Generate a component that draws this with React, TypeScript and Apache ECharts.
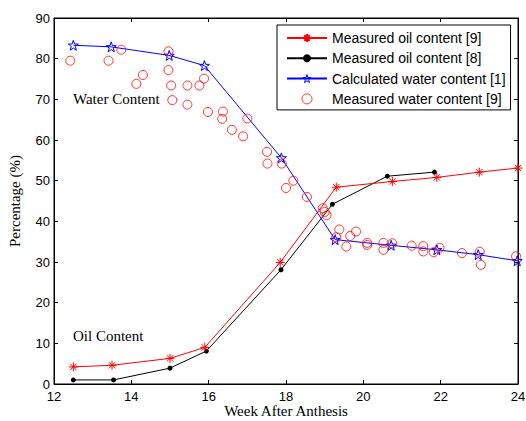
import React, { useEffect, useRef } from "react";
import * as echarts from "echarts";

const oil9: [number, number][] = [
  [12.5, 4.2], [13.5, 4.6], [15.0, 6.3], [15.9, 9.0], [17.85, 29.9],
  [19.3, 48.4], [20.75, 49.8], [21.9, 50.8], [23.0, 52.1], [24.0, 53.1],
];
const oil8: [number, number][] = [
  [12.5, 1.0], [13.54, 1.0], [15.0, 3.9], [15.94, 8.1], [17.87, 28.1],
  [19.2, 44.2], [20.62, 51.1], [21.84, 52.1],
];
const waterCalc: [number, number][] = [
  [12.5, 83.3], [13.48, 82.9], [14.98, 80.8], [15.89, 78.3], [17.88, 55.6],
  [19.27, 35.5], [20.72, 34.1], [21.9, 33.0], [22.97, 31.8], [23.98, 30.3],
];
const waterMeasured: [number, number][] = [
  [12.42, 79.5], [13.41, 79.5], [13.74, 82.2], [14.13, 73.8], [14.3, 76.0],
  [14.96, 81.8], [14.96, 77.2], [15.03, 73.4], [15.06, 69.8], [15.45, 73.4],
  [15.45, 68.7], [15.76, 73.4], [15.88, 75.1], [15.98, 66.9], [16.37, 67.0],
  [16.35, 65.2], [17.0, 65.3], [16.6, 62.5], [16.89, 60.9], [17.51, 57.1],
  [17.52, 54.2], [17.89, 54.2], [18.19, 50.0], [18.0, 48.2], [18.54, 46.0],
  [18.95, 43.2], [19.0, 42.3], [19.05, 41.5], [19.38, 38.0], [19.3, 36.1],
  [19.56, 33.8], [19.66, 36.4], [19.81, 37.5], [20.1, 34.7], [20.1, 34.2],
  [20.52, 34.7], [20.52, 33.0], [20.75, 34.6], [21.25, 34.0], [21.55, 33.9],
  [21.55, 32.6], [21.82, 32.4], [21.97, 33.5], [22.55, 32.2], [23.01, 32.5],
  [23.04, 29.3], [23.95, 31.4],
];

const seriesNames = [
  "Measured oil content [9]",
  "Measured oil content [8]",
  "Calculated water content [1]",
  "Measured water content [9]",
];

const STAR =
  "path://M0,-10L2.35,-3.24L9.51,-3.09L3.8,1.24L5.88,8.09L0,4L-5.88,8.09L-3.8,1.24L-9.51,-3.09L-2.35,-3.24Z";
const ASTER = "path://M0,-10L0,10M-10,0L10,0M-7,-7L7,7M-7,7L7,-7";

const SANS = "Liberation Sans, Arial, sans-serif";
const SERIF = "Liberation Serif, Times New Roman, serif";
const CLEAR = "rgba(0,0,0,0)";

export default function App() {
  const ref = useRef<HTMLDivElement>(null);
  useEffect(() => {
    if (!ref.current) return;
    const chart = echarts.init(ref.current, undefined, { renderer: "svg" });
    const axisCommon = {
      type: "value" as const,
      axisLine: { show: true, onZero: false, lineStyle: { color: "#000", width: 1 } },
      axisTick: { show: true, inside: true, length: 4, lineStyle: { color: "#000" } },
      splitLine: { show: false },
    };
    chart.setOption({
      animation: false,
      backgroundColor: "#fff",
      grid: {
        left: 54,
        right: 8,
        top: 18,
        bottom: 37,
        containLabel: false,
        outerBoundsMode: "none",
        show: true,
        borderColor: "#000",
        borderWidth: 1,
        backgroundColor: CLEAR,
      },
      legend: {
        show: true,
        orient: "vertical",
        left: 277,
        top: 25,
        itemWidth: 40,
        itemHeight: 10,
        itemGap: 6.3,
        padding: [6, 5, 4, 9],
        borderColor: "#000",
        borderWidth: 1,
        backgroundColor: "#fff",
        textStyle: { fontFamily: SANS, fontSize: 14, lineHeight: 14, color: "#000" },
        data: [
          { name: seriesNames[0] },
          { name: seriesNames[1] },
          {
            name: seriesNames[2],
            itemStyle: { color: CLEAR, borderColor: "#0000ff", borderWidth: 1 },
          },
          {
            name: seriesNames[3],
            itemStyle: { color: CLEAR, borderColor: "#ff0000", borderWidth: 1 },
          },
        ],
      },
      xAxis: [
        {
          ...axisCommon,
          min: 12,
          max: 24,
          interval: 2,
          position: "bottom",
          axisLabel: { fontFamily: SANS, fontSize: 13, color: "#000", margin: 6 },
          name: "Week After Anthesis",
          nameLocation: "middle",
          nameMoveOverlap: false,
          nameGap: 20,
          nameTextStyle: { fontFamily: SERIF, fontSize: 15, lineHeight: 14, color: "#000" },
        },
        {
          ...axisCommon,
          min: 12,
          max: 24,
          interval: 2,
          position: "top",
          axisLabel: { show: false },
        },
      ],
      yAxis: [
        {
          ...axisCommon,
          min: 0,
          max: 90,
          interval: 10,
          position: "left",
          axisLabel: { fontFamily: SANS, fontSize: 13, color: "#000", margin: 4 },
          name: "Percentage (%)",
          nameLocation: "middle",
          nameGap: 32,
          nameTextStyle: { fontFamily: SERIF, fontSize: 15, color: "#000" },
        },
        {
          ...axisCommon,
          min: 0,
          max: 90,
          interval: 10,
          position: "right",
          axisLabel: { show: false },
        },
      ],
      graphic: [
        {
          type: "text",
          left: 73,
          top: 91,
          style: { text: "Water Content", font: `15px ${SERIF}`, fill: "#000" },
        },
        {
          type: "text",
          left: 73,
          top: 328,
          style: { text: "Oil Content", font: `15px ${SERIF}`, fill: "#000" },
        },
      ],
      series: [
        {
          name: seriesNames[0],
          type: "line",
          data: oil9,
          color: "#ff0000",
          symbol: ASTER,
          symbolSize: 9,
          lineStyle: { color: "#ff0000", width: 1 },
          itemStyle: { color: "#ff0000", borderColor: "#ff0000", borderWidth: 1 },
          z: 3,
        },
        {
          name: seriesNames[1],
          type: "line",
          data: oil8,
          color: "#000",
          symbol: "circle",
          symbolSize: 5,
          lineStyle: { color: "#000", width: 1 },
          itemStyle: { color: "#000" },
          z: 2,
        },
        {
          name: seriesNames[2],
          type: "line",
          data: waterCalc,
          color: "#0000ff",
          symbol: STAR,
          symbolSize: 10,
          lineStyle: { color: "#0000ff", width: 1 },
          itemStyle: { color: CLEAR, borderColor: "#0000ff", borderWidth: 1 },
          z: 4,
        },
        {
          name: seriesNames[3],
          type: "scatter",
          data: waterMeasured,
          color: "#ff0000",
          symbol: "circle",
          symbolSize: 9,
          itemStyle: { color: CLEAR, borderColor: "#ff0000", borderWidth: 1 },
          z: 5,
        },
      ],
    });
    return () => chart.dispose();
  }, []);
  return (
    <div
      ref={ref}
      style={{ position: "fixed", left: 0, top: 0, width: 526, height: 421 }}
    />
  );
}
